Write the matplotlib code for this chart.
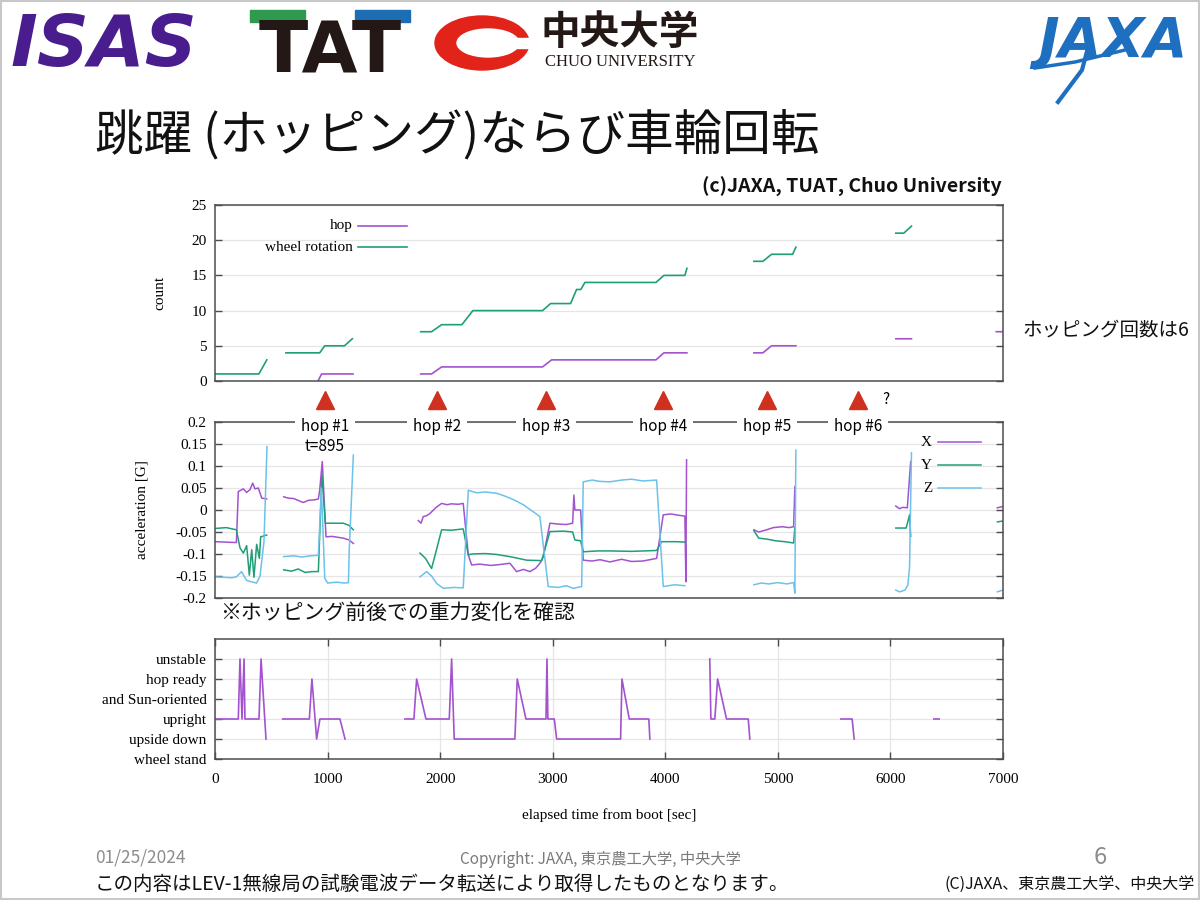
import numpy as np
import matplotlib
matplotlib.use('Agg')
import matplotlib.pyplot as plt
import matplotlib.transforms as mtransforms
from matplotlib.patches import Rectangle, Ellipse

nan = np.nan

# ---- top panel: cumulative counts ----
hop_t = [915, 947, 1226, nan, 1827, 1924, 2013, 2910, 2990, 3917, 3988, 4192, nan,
         4787, 4867, 4944, 5160, nan, 6048, 6187, nan, 6940, 7000]
hop_n = [0, 1, 1, nan, 1, 1, 2, 2, 3, 3, 4, 4, nan,
         4, 4, 5, 5, nan, 6, 6, nan, 7, 7]
wheel_t = [0, 390, 460, nan, 630, 930, 975, 1150, 1220, nan,
           1827, 1924, 2013, 2193, 2291, 2910, 2981, 3159, 3212, 3250, 3286, 3917, 3988, 4174, 4192, nan,
           4787, 4867, 4944, 5131, 5160, nan, 6048, 6119, 6187]
wheel_n = [1, 1, 3, nan, 4, 4, 5, 5, 6, nan,
           7, 7, 8, 8, 10, 10, 11, 11, 13, 13, 14, 14, 15, 15, 16, nan,
           17, 17, 18, 18, 19, nan, 21, 21, 22]

# ---- middle panel: acceleration [G] ----
accx_t = [0, 190, 207, 230, 252, 280, 310, 335, 355, 385, 415, 459, nan,
          610, 650, 700, 784, 830, 880, 918, 930, 953, 986, 1040, 1090, 1140, 1190, 1229, nan,
          1806, 1830, 1850, 1880, 1909, 1960, 2013, 2060, 2100, 2160, 2205, 2250, 2280, 2350, 2450,
          2530, 2620, 2679, 2740, 2798, 2850, 2886, 2916, 2975, 3050, 3120, 3177, 3188, 3197, 3248,
          3271, 3350, 3420, 3508, 3612, 3700, 3800, 3923, 3982, 4050, 4120, 4174, 4183, 4189, nan,
          4787, 4830, 4900, 4960, 5040, 5100, 5140, 5151, nan,
          6048, 6080, 6110, 6150, 6180, nan,
          6950, 7000]
accx_g = [-0.072, -0.074, 0.042, 0.045, 0.048, 0.040, 0.046, 0.061, 0.048, 0.050, 0.027, 0.025, nan,
          0.030, 0.027, 0.026, 0.017, 0.022, 0.023, 0.025, 0.045, 0.110, -0.061, -0.060, -0.062, -0.064, -0.068, -0.076, nan,
          -0.024, -0.030, -0.015, -0.013, -0.008, 0.005, 0.015, 0.012, 0.014, 0.013, 0.015, -0.102, -0.125, -0.123, -0.126,
          -0.124, -0.121, -0.140, -0.135, -0.140, -0.132, -0.121, -0.107, -0.030, -0.032, -0.033, -0.030, 0.034, 0.000, 0.000,
          -0.114, -0.116, -0.113, -0.118, -0.112, -0.117, -0.116, -0.110, -0.011, -0.009, -0.012, -0.014, -0.163, 0.114, nan,
          -0.045, -0.050, -0.045, -0.040, -0.038, -0.040, -0.038, 0.053, nan,
          0.009, 0.003, 0.006, 0.005, 0.110, nan,
          0.005, 0.008]
accy_t = [0, 100, 190, 222, 252, 281, 305, 326, 346, 370, 394, 406, 459, nan,
          610, 680, 740, 800, 860, 918, 950, 980, 1050, 1140, 1190, 1229, nan,
          1821, 1870, 1924, 1969, 2013, 2100, 2205, 2250, 2280, 2400, 2500, 2620, 2768, 2902, 2975,
          3100, 3177, 3197, 3248, 3271, 3400, 3508, 3700, 3923, 3967, 4100, 4174, nan,
          4787, 4830, 4900, 4980, 5060, 5140, 5151, nan,
          6048, 6140, 6170, 6180, nan,
          6950, 7000]
accy_g = [-0.042, -0.040, -0.045, -0.086, -0.098, -0.081, -0.148, -0.090, -0.153, -0.078, -0.110, -0.061, -0.057, nan,
          -0.136, -0.139, -0.134, -0.142, -0.140, -0.140, 0.080, -0.030, -0.030, -0.030, -0.035, -0.045, nan,
          -0.098, -0.110, -0.133, -0.089, -0.045, -0.046, -0.043, -0.102, -0.100, -0.099, -0.101, -0.106, -0.114, -0.115, -0.049,
          -0.048, -0.050, -0.068, -0.070, -0.095, -0.093, -0.093, -0.094, -0.092, -0.072, -0.072, -0.073, nan,
          -0.047, -0.064, -0.066, -0.070, -0.072, -0.075, -0.040, nan,
          -0.041, -0.041, -0.011, -0.060, nan,
          -0.027, -0.025]
accz_t = [0, 150, 190, 236, 280, 320, 370, 400, 435, 462, nan,
          610, 700, 770, 850, 918, 945, 975, 1000, 1080, 1150, 1185, 1193, 1229, nan,
          1821, 1880, 1924, 1969, 2028, 2120, 2205, 2250, 2324, 2400, 2502, 2560, 2620, 2680, 2738, 2827,
          2886, 2960, 3050, 3120, 3182, 3257, 3271, 3350, 3420, 3508, 3612, 3700, 3800, 3923, 3982, 4080, 4174, nan,
          4787, 4850, 4920, 5000, 5080, 5140, 5151, 5160, nan,
          6048, 6080, 6130, 6155, 6170, 6187, nan,
          6950, 7000]
accz_g = [-0.152, -0.154, -0.152, -0.140, -0.160, -0.163, -0.166, -0.150, -0.072, 0.144, nan,
          -0.106, -0.104, -0.107, -0.104, -0.103, 0.050, -0.155, -0.166, -0.164, -0.166, -0.165, -0.087, 0.125, nan,
          -0.152, -0.140, -0.150, -0.167, -0.178, -0.176, -0.177, 0.045, 0.039, 0.041, 0.038, 0.033, 0.027, 0.020, 0.012, -0.004,
          -0.015, -0.174, -0.176, -0.172, -0.178, -0.174, 0.064, 0.068, 0.065, 0.064, 0.068, 0.070, 0.066, 0.068, -0.174, -0.170, -0.172, nan,
          -0.170, -0.166, -0.168, -0.165, -0.168, -0.165, -0.189, 0.136, nan,
          -0.182, -0.186, -0.182, -0.170, -0.130, 0.130, nan,
          -0.186, -0.182]
acc_ticks = [-0.2, -0.15, -0.1, -0.05, 0, 0.05, 0.1, 0.15, 0.2]

# ---- bottom panel: rover state ----
state_names = ['wheel stand', 'upside down', 'upright', 'and Sun-oriented', 'hop ready', 'unstable']
state_t = [0, 207, 222, 240, 258, 266, 391, 409, 453, nan,
           601, 838, 861, 903, 932, 1110, 1155, nan,
           1687, 1767, 1791, 1874, 2081, 2102, 2125, 2664, 2685, 2762, 2940, 2949, 2957, 3014, 3035,
           3603, 3615, 3680, 3854, 3863, nan,
           4395, 4405, 4440, 4465, 4544, 4737, 4751, nan,
           5560, 5660, 5678, nan, 6386, 6433]
state_v = [2, 2, 5, 2, 5, 2, 2, 5, 1, nan,
           2, 2, 4, 1, 2, 2, 1, nan,
           2, 2, 4, 2, 2, 5, 1, 1, 4, 2, 2, 5, 2, 2, 1,
           1, 4, 2, 2, 1, nan,
           5, 2, 2, 4, 2, 2, 1, nan,
           2, 2, 1, nan, 2, 2]

# hop events (triangles / labels above middle panel)
hop_marks = [977, 1972, 2940, 3979, 4902, 5710]
hop_labels = ['hop #1', 'hop #2', 'hop #3', 'hop #4', 'hop #5', 'hop #6']

PURPLE = '#a452cf'
GREEN = '#1f9e78'
CYAN = '#6cc2ea'
FRAME = '#4d4d4d'
GRID = '#e6e6e6'
SERIF = 'Liberation Serif'
JP = ['Noto Sans CJK JP', 'DejaVu Sans']

plt.rcParams['font.family'] = SERIF

W, H = 1200, 900


def box(x0, y0, x1, y1):
    # pixel box (y down) -> figure fraction rect
    return [x0 / W, 1 - y1 / H, (x1 - x0) / W, (y1 - y0) / H]


def style(ax):
    for s in ax.spines.values():
        s.set_color(FRAME)
        s.set_linewidth(1.1)
    ax.tick_params(axis='y', direction='in', length=5, width=1, color=FRAME,
                   left=True, right=True, labelsize=11, pad=6)
    ax.set_xlim(0, 7000)
    ax.set_axisbelow(True)


fig = plt.figure(figsize=(12, 9), dpi=100)

# background / slide decorations in pixel coordinates
bg = fig.add_axes([0, 0, 1, 1])
bg.set_xlim(0, W)
bg.set_ylim(H, 0)
bg.axis('off')

# logos (approximated)
bg.text(10, 66, 'ISAS', fontsize=52, fontweight='heavy', fontstyle='italic',
        color='#4a1d8f', va='baseline', ha='left', family='DejaVu Sans')
bg.add_patch(Rectangle((250, 10), 55, 12, color='#2f9a4f'))
bg.add_patch(Rectangle((355, 10), 55, 12, color='#1d6db5'))
bg.text(330, 72, 'TAT', fontsize=52, fontweight='bold', color='#231815',
        va='baseline', ha='center', family='DejaVu Sans')
bg.add_patch(Ellipse((482, 43), 94, 54, color='#e2231a'))
bg.add_patch(Ellipse((488, 43), 62, 28, color='white'))
bg.add_patch(Rectangle((505, 38), 30, 10, color='white'))
bg.text(540, 32, '中央大学', fontsize=28.5, fontweight='bold', color='#231815',
        va='center', ha='left', family=JP)
bg.text(620, 62, 'CHUO UNIVERSITY', fontsize=12, color='#231815',
        va='center', ha='center', family=SERIF)
bg.text(1113, 42, 'JAXA', fontsize=40, fontweight='bold', fontstyle='italic',
        color='#1f6fc0', va='center', ha='center', family='DejaVu Sans')
bg.plot([1058, 1082, 1090], [102, 70, 40], color='#1f6fc0', lw=3)
bg.plot([1035, 1075, 1125], [68, 62, 50], color='#1f6fc0', lw=2.5)

# title and captions
bg.text(95, 135, '跳躍 (ホッピング)ならび車輪回転', fontsize=35, color='#111111',
        va='center', ha='left', family=JP)
bg.text(1002, 187, '(c)JAXA, TUAT, Chuo University', fontsize=14, fontweight='bold',
        color='#111111', va='center', ha='right', family=JP)
bg.text(1022, 331, 'ホッピング回数は6', fontsize=14, color='#111111',
        va='center', ha='left', family=JP)
bg.text(220, 613, '※ホッピング前後での重力変化を確認', fontsize=15, color='#111111',
        va='center', ha='left', family=JP)

# footer
bg.text(95, 858, '01/25/2024', fontsize=12.5, color='#8c8c8c', va='center', ha='left', family=JP)
bg.text(600, 859, 'Copyright: JAXA, 東京農工大学, 中央大学', fontsize=11, color='#7a7a7a',
        va='center', ha='center', family=JP)
bg.text(1100, 858, '6', fontsize=17, color='#8c8c8c', va='center', ha='center', family=JP)
bg.text(95, 884, 'この内容はLEV-1無線局の試験電波データ転送により取得したものとなります。',
        fontsize=14, color='#111111', va='center', ha='left', family=JP)
bg.text(1195, 884, '(C)JAXA、東京農工大学、中央大学', fontsize=11.5, color='#111111',
        va='center', ha='right', family=JP)
bg.add_patch(Rectangle((1, 1), W - 2, H - 2, fill=False, edgecolor='#c8c8c8', lw=1.5))

# ---- top chart ----
ax_top = fig.add_axes(box(215, 205, 1003, 381))
style(ax_top)
ax_top.plot(hop_t, hop_n, color=PURPLE, lw=1.2)
ax_top.plot(wheel_t, wheel_n, color=GREEN, lw=1.2)
ax_top.set_ylim(0, 25)
ax_top.set_yticks([0, 5, 10, 15, 20, 25])
ax_top.tick_params(axis='x', bottom=False, labelbottom=False)
ax_top.yaxis.grid(True, color=GRID, lw=0.9)
ax_top.set_ylabel('count', fontsize=11)
ax_top.yaxis.set_label_coords((166 - 215) / 788, 0.5)
for i, (lab, col) in enumerate([('hop', PURPLE), ('wheel rotation', GREEN)]):
    yy = 0.881 - i * 0.12
    ax_top.text(0.175, yy, lab, transform=ax_top.transAxes, fontsize=11,
                ha='right', va='center')
    ax_top.plot([0.181, 0.244], [yy, yy], transform=ax_top.transAxes, color=col, lw=1.2)

# ---- middle chart ----
ax_mid = fig.add_axes(box(215, 422, 1003, 598))
style(ax_mid)
ax_mid.plot(accx_t, accx_g, color=PURPLE, lw=1.1)
ax_mid.plot(accy_t, accy_g, color=GREEN, lw=1.1)
ax_mid.plot(accz_t, accz_g, color=CYAN, lw=1.1)
ax_mid.set_ylim(-0.2, 0.2)
ax_mid.set_yticks(acc_ticks)
ax_mid.set_yticklabels([f'{round(v, 2):g}' for v in acc_ticks])
ax_mid.tick_params(axis='x', bottom=False, labelbottom=False)
ax_mid.yaxis.grid(True, color=GRID, lw=0.9)
ax_mid.set_ylabel('acceleration [G]', fontsize=11)
ax_mid.yaxis.set_label_coords((149 - 215) / 788, 0.5)
for i, (lab, col) in enumerate([('X', PURPLE), ('Y', GREEN), ('Z', CYAN)]):
    yy = 0.886 - i * 0.131
    ax_mid.text(0.910, yy, lab, transform=ax_mid.transAxes, fontsize=11,
                ha='right', va='center')
    ax_mid.plot([0.917, 0.972], [yy, yy], transform=ax_mid.transAxes, color=col, lw=1.1)

# hop markers above the middle chart
blend = mtransforms.blended_transform_factory(ax_mid.transData, ax_mid.transAxes)
ax_mid.plot(hop_marks, [1.125] * len(hop_marks), '^', color='#d0301f', ms=13,
            transform=blend, clip_on=False)
for xm, lab in zip(hop_marks, hop_labels):
    ax_mid.text(xm, 0.975, lab, transform=blend, fontsize=11, ha='center', va='center',
                family=JP, zorder=5, clip_on=False,
                bbox=dict(boxstyle='square,pad=0.4', fc='white', ec='none'))
ax_mid.text(hop_marks[0], 0.86, 't=895', transform=blend, fontsize=11, ha='center',
            va='center', family=JP, zorder=5)
ax_mid.annotate('?', (hop_marks[-1], 1.125), xycoords=blend, xytext=(20, 0),
                textcoords='offset points', fontsize=11, ha='center', va='center', family=JP)

# ---- bottom chart ----
ax_bot = fig.add_axes(box(215, 639, 1003, 759))
style(ax_bot)
ax_bot.plot(state_t, state_v, color=PURPLE, lw=1.2)
ax_bot.set_ylim(0, 6)
ax_bot.set_yticks(range(len(state_names)))
ax_bot.set_yticklabels(state_names)
ax_bot.set_xticks(range(0, 7001, 1000))
ax_bot.tick_params(axis='x', direction='in', length=5, width=1, color=FRAME,
                   top=True, bottom=True, labelsize=11, pad=10)
ax_bot.grid(True, color=GRID, lw=0.9)
ax_bot.set_xlabel('elapsed time from boot [sec]', fontsize=11)
ax_bot.xaxis.set_label_coords(0.5, (759 - 808) / 120)

fig.savefig('out.png', dpi=100, facecolor='white')
